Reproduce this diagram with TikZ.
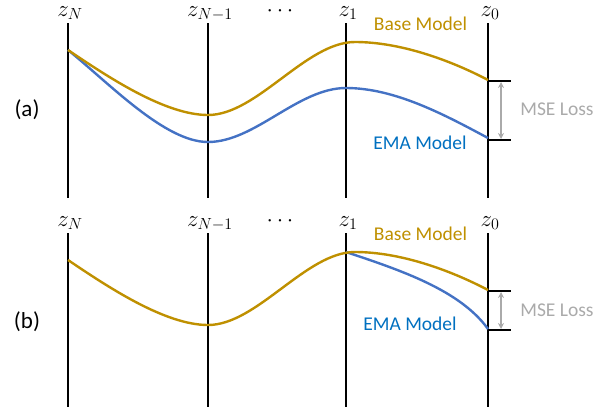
\RequirePackage{fix-cm}
\documentclass[tikz,border=0pt]{standalone}
\usepackage{fontspec}
\setmainfont{Carlito}
\usetikzlibrary{arrows.meta}
\definecolor{gold}{RGB}{191,144,0}
\definecolor{emablue}{RGB}{68,114,196}
\definecolor{ematext}{RGB}{0,112,192}
\definecolor{lossgray}{RGB}{170,170,170}
\begin{document}
\begin{tikzpicture}[x=1pt,y=-1pt,
  axisline/.style={line width=2.6pt, black},
  basecurve/.style={line width=2.4pt, gold},
  emacurve/.style={line width=2.4pt, emablue},
  tickline/.style={line width=1.8pt, black},
  lossarrow/.style={line width=1.8pt, lossgray, {Stealth[length=6pt,width=6pt]}-{Stealth[length=6pt,width=6pt]}},
  zlabel/.style={font=\fontsize{23}{23}\selectfont, inner sep=0pt, anchor=base},
  txt/.style={font=\fontsize{19.5}{20}\selectfont, inner sep=0pt},
  panellabel/.style={font=\fontsize{23}{24}\selectfont, inner sep=0pt},
]
\useasboundingbox (0,0) rectangle (609,413);

% ================= panel (a) =================
\foreach \n/\x in {N/68, M/208, O/346, Z/488}{
  \coordinate (a-top-\n) at (\x,23);
  \coordinate (a-bot-\n) at (\x,198);
  \draw[axisline] (a-top-\n) -- (a-bot-\n);
}
\node[zlabel] (a-zN) at (70,16) {$z_N$};
\node[zlabel] (a-zM) at (210,16) {$z_{N-1}$};
\node[zlabel] (a-dots) at (280,16) {$\cdots$};
\node[zlabel] (a-z1) at (348,16) {$z_1$};
\node[zlabel] (a-z0) at (490,16) {$z_0$};

\coordinate (a-start) at (68,50);
\coordinate (a-bend) at (488,80);
\coordinate (a-eend) at (488,138);
\draw[emacurve] (a-start) .. controls (110,84) and (165,142) .. (208,142)
  .. controls (255,142) and (298,88) .. (346,88)
  .. controls (395,88) and (445,115) .. (a-eend);
\draw[basecurve] (a-start) .. controls (108,77) and (165,115) .. (208,115)
  .. controls (257,115) and (306,42) .. (355,42)
  .. controls (400,42) and (450,60) .. (a-bend);

\coordinate (a-t1l) at (488,81);  \coordinate (a-t1r) at (511,81);
\coordinate (a-t2l) at (488,140); \coordinate (a-t2r) at (511,140);
\draw[tickline] (a-t1l) -- (a-t1r);
\draw[tickline] (a-t2l) -- (a-t2r);
\coordinate (a-ar1) at (501,82);
\coordinate (a-ar2) at (501,139);
\draw[lossarrow] (a-ar1) -- (a-ar2);

\node[txt, text=gold] (a-base) at (420.5,24) {Base Model};
\node[txt, text=ematext] (a-ema) at (420,143) {EMA Model};
\node[txt, text=lossgray] (a-loss) at (557,109) {MSE Loss};
\node[panellabel] (a-lab) at (27,110) {(a)};

% ================= panel (b) =================
\foreach \n/\x in {N/68, M/208, O/346, Z/488}{
  \coordinate (b-top-\n) at (\x,233);
  \coordinate (b-bot-\n) at (\x,407);
  \draw[axisline] (b-top-\n) -- (b-bot-\n);
}
\node[zlabel] (b-zN) at (70,226) {$z_N$};
\node[zlabel] (b-zM) at (210,226) {$z_{N-1}$};
\node[zlabel] (b-dots) at (280,226) {$\cdots$};
\node[zlabel] (b-z1) at (348,226) {$z_1$};
\node[zlabel] (b-z0) at (490,226) {$z_0$};

\coordinate (b-start) at (68,260);
\coordinate (b-split) at (346,252);
\coordinate (b-bend) at (488,290);
\coordinate (b-eend) at (488,329);
\draw[emacurve] (b-split) .. controls (400,270) and (460,290) .. (b-eend);
\draw[basecurve] (b-start) .. controls (108,287) and (165,325) .. (208,325)
  .. controls (257,325) and (306,252) .. (355,252)
  .. controls (400,252) and (450,270) .. (b-bend);

\coordinate (b-t1l) at (488,291); \coordinate (b-t1r) at (511,291);
\coordinate (b-t2l) at (488,330); \coordinate (b-t2r) at (511,330);
\draw[tickline] (b-t1l) -- (b-t1r);
\draw[tickline] (b-t2l) -- (b-t2r);
\coordinate (b-ar1) at (501,292);
\coordinate (b-ar2) at (501,329);
\draw[lossarrow] (b-ar1) -- (b-ar2);

\node[txt, text=gold] (b-base) at (420.5,234) {Base Model};
\node[txt, text=ematext] (b-ema) at (410,324) {EMA Model};
\node[txt, text=lossgray] (b-loss) at (557,310) {MSE Loss};
\node[panellabel] (b-lab) at (27,322) {(b)};
\end{tikzpicture}
\end{document}
